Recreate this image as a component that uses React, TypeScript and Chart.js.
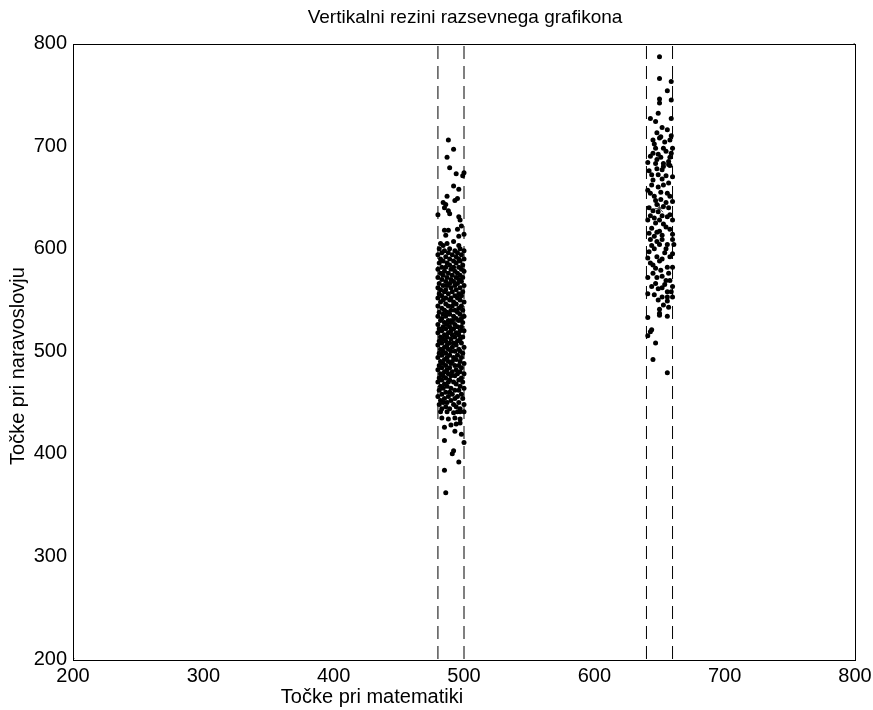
import React, { useEffect, useRef } from "react";
import { Chart, registerables } from "chart.js";

Chart.register(...registerables);

const titleText = "Vertikalni rezini razsevnega grafikona";
const xLabel = "Točke pri matematiki";
const yLabel = "Točke pri naravoslovju";
const xTicks = [200, 300, 400, 500, 600, 700, 800];
const yTicks = [200, 300, 400, 500, 600, 700, 800];
const sliceEdges = [480, 500, 640, 660];
const corners: [number, number][] = [[200, 200], [800, 800]];
const means: [number, number][] = [[492, 529], [650, 639]];

// slice A (480..500) sparse top part
const sliceATop: [number, number][] = [
  [488, 706], [492, 697], [487, 689], [489, 679], [494, 673], [500, 674], [499, 671],
  [492, 661], [496, 658], [495, 649], [493, 647], [487, 651], [484, 645], [486, 643],
  [480, 633], [485, 640], [488, 637], [489, 634], [496, 631], [497, 628], [485, 618],
  [488, 618], [495, 619], [498, 622], [486, 613], [496, 612], [500, 614], [482, 605],
  [484, 603], [487, 605], [492, 607], [496, 603],
];

// slice A dense middle part
const sliceAMid: [number, number][] = [
  [481, 600], [489, 600], [497, 600], [485, 598], [493, 598], [500, 598],
  [483, 596], [488, 596], [495, 596], [480, 594], [491, 594], [498, 594],
  [486, 592], [494, 592], [482, 590], [489, 590], [496, 590], [500, 590],
  [484, 588], [492, 588], [497, 588], [481, 586], [487, 586], [494, 586],
  [489, 584], [499, 584], [483, 582], [486, 582], [492, 582], [496, 582],
  [480, 580], [490, 580], [498, 580], [485, 578], [493, 578], [500, 578],
  [482, 576], [488, 576], [495, 576], [484, 574], [491, 574], [497, 574],
  [480, 572], [487, 572], [494, 572], [499, 572], [483, 570], [490, 570], [496, 570],
  [486, 568], [492, 568], [498, 568], [481, 566], [489, 566], [495, 566],
  [484, 564], [487, 564], [493, 564], [500, 564], [480, 562], [490, 562], [497, 562],
  [482, 560], [486, 560], [494, 560], [485, 558], [491, 558], [499, 558],
  [481, 556], [488, 556], [496, 556], [483, 554], [493, 554], [498, 554],
  [480, 552], [486, 552], [490, 552], [495, 552], [484, 550], [489, 550], [497, 550],
  [482, 548], [492, 548], [500, 548], [486, 546], [494, 546],
  [480, 544], [488, 544], [491, 544], [498, 544], [483, 542], [496, 542],
  [485, 540], [490, 540], [493, 540], [499, 540], [481, 538], [487, 538], [495, 538],
  [484, 536], [489, 536], [497, 536], [480, 534], [486, 534], [492, 534], [500, 534],
  [483, 532], [494, 532], [498, 532], [482, 530], [488, 530], [491, 530], [496, 530],
  [485, 528], [490, 528], [499, 528], [480, 526], [487, 526], [493, 526],
  [484, 524], [489, 524], [495, 524], [498, 524], [481, 522], [486, 522], [492, 522],
  [483, 520], [490, 520], [497, 520], [500, 520], [480, 518], [488, 518], [494, 518],
  [485, 516], [491, 516], [496, 516], [482, 514], [487, 514], [493, 514], [499, 514],
  [484, 512], [490, 512], [497, 512], [481, 510], [486, 510], [495, 510],
  [483, 508], [489, 508], [492, 508], [498, 508], [480, 506], [487, 506], [494, 506],
  [485, 504], [491, 504], [500, 504], [482, 502], [488, 502], [496, 502],
  [484, 500], [490, 500], [493, 500], [497, 500], [481, 498], [486, 498], [499, 498],
  [483, 496], [489, 496], [495, 496], [480, 494], [487, 494], [492, 494], [498, 494],
  [485, 492], [494, 492], [482, 490], [488, 490], [491, 490], [497, 490],
  [484, 488], [490, 488], [500, 488], [481, 486], [486, 486], [493, 486], [496, 486],
  [483, 484], [489, 484], [498, 484], [480, 482], [487, 482], [494, 482],
  [485, 480], [491, 480], [497, 480], [482, 478], [488, 478], [495, 478], [500, 478],
  [484, 476], [490, 476], [493, 476], [481, 474], [486, 474], [498, 474],
  [483, 472], [489, 472], [496, 472], [480, 470], [488, 470], [492, 470], [499, 470],
  [485, 468], [494, 468], [482, 466], [487, 466], [497, 466], [484, 464], [490, 464], [500, 464],
  [481, 462], [493, 462], [496, 462], [486, 460], [489, 460], [483, 458], [491, 458], [498, 458],
  [480, 456], [488, 456], [495, 456], [485, 454], [493, 454], [499, 454], [482, 452], [490, 452],
  [484, 450], [487, 450], [496, 450], [481, 448], [492, 448], [500, 448], [486, 446], [494, 446],
  [483, 444], [489, 444], [497, 444],
];

// slice A sparse bottom part
const sliceABottom: [number, number][] = [
  [482, 441], [487, 441], [492, 440], [495, 441], [497, 441], [500, 441],
  [483, 435], [488, 434], [493, 435], [497, 434], [485, 426], [490, 428],
  [494, 429], [497, 430], [493, 422], [498, 419], [485, 413], [500, 411],
  [492, 403], [491, 400], [496, 392], [485, 384], [486, 362],
];

// slice B (640..660)
const sliceB: [number, number][] = [
  [650, 787], [650, 766], [659, 763], [656, 754], [650, 746], [650, 742], [659, 745],
  [649, 732], [643, 727], [647, 724], [659, 727], [652, 718], [650, 708], [651, 709],
  [659, 710], [658, 706], [647, 698], [653, 698], [660, 698], [645, 693], [649, 692],
  [659, 693], [643, 690], [651, 689], [658, 689], [647, 683], [653, 683], [657, 682],
  [657, 685], [648, 678], [652, 677], [658, 681], [649, 672], [660, 670], [644, 662],
  [649, 660], [653, 662], [657, 664], [643, 654], [646, 651], [656, 654], [658, 651],
  [660, 646], [648, 643], [653, 641], [645, 637], [649, 636], [658, 633], [660, 628],
  [647, 625], [650, 628], [644, 620], [648, 616], [650, 617], [658, 619], [660, 614],
  [643, 609], [648, 607], [652, 609], [650, 604], [656, 604], [660, 609], [661, 604],
  [642, 597], [648, 592], [658, 592], [660, 595], [643, 586], [647, 581], [656, 582],
  [660, 582], [645, 576], [652, 573], [655, 569], [658, 569], [647, 566], [649, 561],
  [656, 558], [659, 558], [656, 553], [649, 550], [652, 553], [660, 553], [653, 545],
  [657, 543], [650, 537], [656, 549], [650, 541], [650, 535], [656, 534], [641, 533],
  [644, 521], [643, 519], [641, 515], [647, 508], [645, 492], [656, 479],
  [646, 702], [654, 704], [642, 676], [655, 671], [645, 667], [651, 648], [655, 645],
  [642, 640], [656, 631], [653, 624], [641, 628], [646, 612], [654, 596], [650, 588],
  [644, 603], [657, 576], [652, 562],
  [641, 684], [655, 695], [648, 687], [644, 672], [652, 668], [641, 657], [651, 655],
  [647, 647], [657, 640], [643, 632], [652, 632], [646, 630], [655, 621], [642, 615],
  [652, 613], [646, 600], [655, 600], [641, 591], [652, 590], [645, 584], [651, 579],
  [641, 572], [648, 572], [644, 563], [654, 565], [641, 556], [646, 555], [660, 563],
  [653, 680], [645, 706], [656, 716], [648, 713],
];

const FONT = "'Liberation Sans', Arial, Helvetica, sans-serif";

const toPts = (arr: [number, number][]) => arr.map(([x, y]) => ({ x, y }));

export default function App() {
  const ref = useRef<HTMLCanvasElement | null>(null);

  useEffect(() => {
    if (!ref.current) return;
    const dashSets = sliceEdges.map((e) => ({
      type: "line" as const,
      data: [{ x: e, y: 200 }, { x: e, y: 800 }],
      borderColor: "#000",
      borderWidth: 1,
      borderDash: [13, 7],
      pointRadius: 0,
      showLine: true,
      fill: false,
    }));

    const frame = {
      id: "frameAndText",
      beforeDatasetsDraw(chart: any) {
        const { ctx, chartArea: a } = chart;
        ctx.save();
        ctx.strokeStyle = "#000";
        ctx.lineWidth = 1;
        ctx.strokeRect(Math.round(a.left) + 0.5, Math.round(a.top) + 0.5, Math.round(a.right - a.left), Math.round(a.bottom - a.top));
        ctx.restore();
      },
      afterDraw(chart: any) {
        const { ctx } = chart;
        ctx.save();
        ctx.fillStyle = "#000";
        ctx.textAlign = "center";
        ctx.textBaseline = "middle";
        ctx.font = `19px ${FONT}`;
        ctx.fillText(titleText, 465, 18);
        ctx.font = `20px ${FONT}`;
        ctx.fillText(xLabel, 372, 697);
        ctx.translate(18, 366);
        ctx.rotate(-Math.PI / 2);
        ctx.fillText(yLabel, 0, 0);
        ctx.restore();
      },
    };

    const chart = new Chart(ref.current, {
      type: "scatter",
      data: {
        datasets: [
          ...dashSets,
          {
            data: toPts([...sliceATop, ...sliceAMid, ...sliceABottom]),
            pointRadius: 2.5,
            pointBackgroundColor: "#000",
            pointBorderWidth: 0,
          },
          {
            data: toPts(sliceB),
            pointRadius: 2.5,
            pointBackgroundColor: "#000",
            pointBorderWidth: 0,
          },
          {
            data: toPts(corners),
            pointRadius: 1.5,
            pointBackgroundColor: "#000",
            pointBorderWidth: 0,
          },
          {
            data: toPts(means),
            pointStyle: "star",
            pointRadius: 5,
            pointBorderColor: "#444",
            pointBorderWidth: 1,
          },
        ] as any,
      },
      options: {
        animation: false,
        responsive: false,
        layout: { padding: { top: 43.5, right: 18, bottom: 0, left: 0 } },
        plugins: { legend: { display: false }, tooltip: { enabled: false }, title: { display: false } },
        scales: {
          x: {
            type: "linear",
            min: 200,
            max: 800,
            afterBuildTicks: (s: any) => { s.ticks = xTicks.map((v) => ({ value: v })); },
            afterFit: (s: any) => { s.height = 51; s.paddingLeft = 0; s.paddingRight = 0; },
            grid: { display: false, drawTicks: false },
            border: { display: false },
            ticks: { color: "#000", padding: 5, font: { family: FONT, size: 20 }, maxRotation: 0, autoSkip: false },
          },
          y: {
            type: "linear",
            min: 200,
            max: 800,
            afterBuildTicks: (s: any) => { s.ticks = yTicks.map((v) => ({ value: v })); },
            afterFit: (s: any) => { s.width = 73; s.paddingTop = 0; s.paddingBottom = 0; },
            grid: { display: false, drawTicks: false },
            border: { display: false },
            ticks: { color: "#000", padding: 6, font: { family: FONT, size: 20 }, autoSkip: false },
          },
        },
      },
      plugins: [frame],
    });
    return () => chart.destroy();
  }, []);

  return (
    <div style={{ position: "fixed", left: 0, top: 0, width: 873, height: 710, background: "#fff" }}>
      <canvas ref={ref} width={873} height={710} />
    </div>
  );
}
